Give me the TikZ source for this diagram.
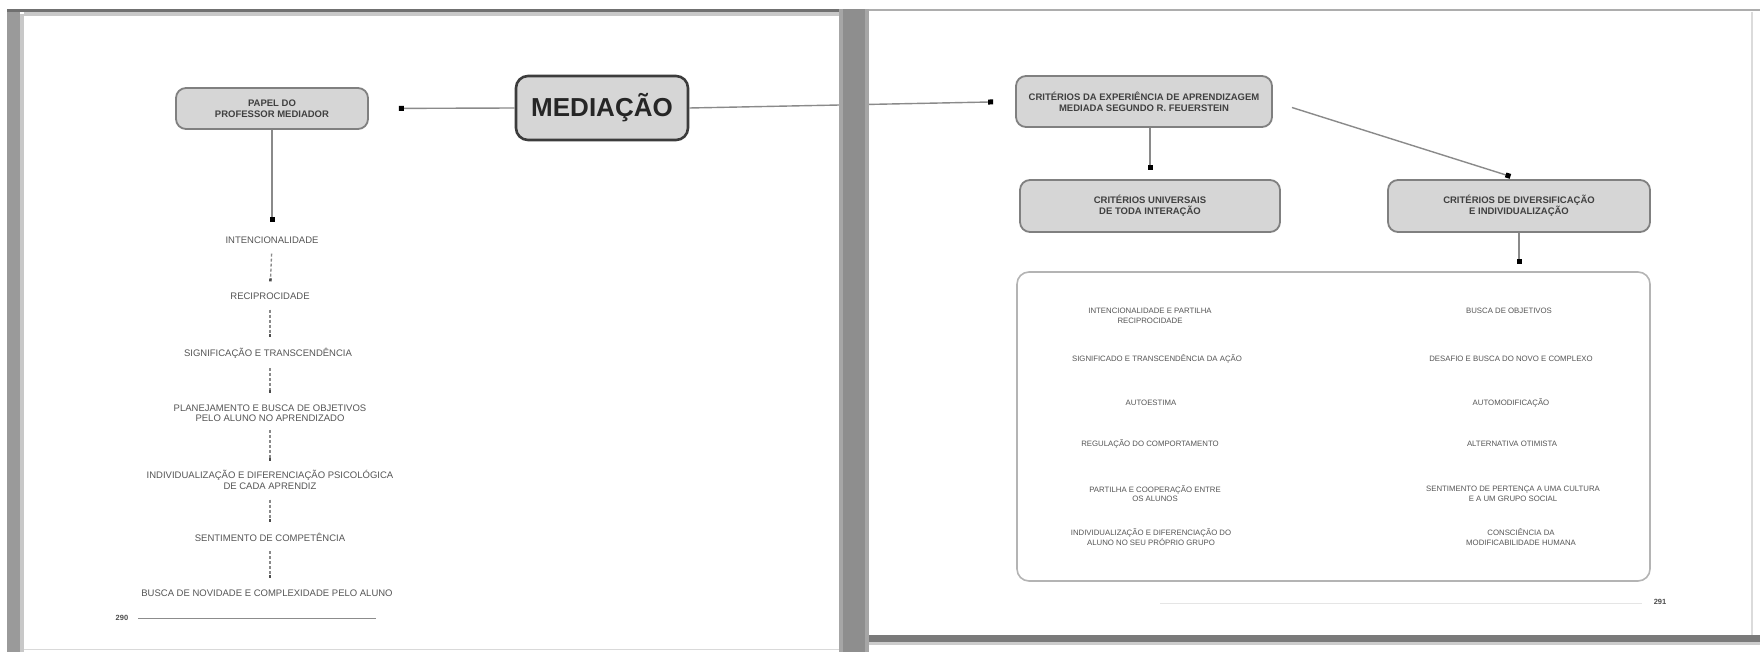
\documentclass[tikz,border=0pt]{standalone}
\usepackage{fontspec}
\setmainfont{Liberation Sans}
\setsansfont{Liberation Sans}
\usetikzlibrary{arrows.meta}
\definecolor{frameA}{HTML}{9A9A9A}
\definecolor{frameB}{HTML}{C8C8C8}
\definecolor{frameDark}{HTML}{707070}
\definecolor{gutter}{HTML}{A6A6A6}
\definecolor{gutterDark}{HTML}{8E8E8E}
\definecolor{boxfill}{HTML}{D6D6D6}
\definecolor{boxline}{HTML}{808080}
\definecolor{medline}{HTML}{3C3C3C}
\definecolor{linkgray}{HTML}{8A8A8A}
\definecolor{txt}{HTML}{555555}
\definecolor{bigline}{HTML}{B4B4B4}
\tikzset{
  graybox/.style={draw=boxline, line width=1.8pt, fill=boxfill, rounded corners=10pt,
    align=center, text=black!75, font=\bfseries\fontsize{9.5}{11}\selectfont, inner sep=2pt},
  medbox/.style={draw=medline, line width=2.6pt, fill=boxfill, rounded corners=12pt,
    align=center, font=\bfseries\fontsize{26}{28}\selectfont, text=black!85},
  bigbox/.style={draw=bigline, line width=1.6pt, fill=white, rounded corners=12pt},
  item/.style={font=\fontsize{7.8}{9.5}\selectfont, text=txt, align=center, inner sep=2pt},
  chainitem/.style={font=\fontsize{9.5}{10.5}\selectfont, text=txt, align=center, inner sep=2pt},
  link/.style={draw=linkgray, line width=1.4pt, -{Square[length=5pt,width=5pt,color=black]}},
  chainlink/.style={draw=linkgray, line width=1.3pt, dash pattern=on 3pt off 2pt,
    -{Square[length=3pt,width=2.5pt,color=black!70]}},
  pagenum/.style={font=\bfseries\fontsize{7.5}{9}\selectfont, text=black!70, inner sep=0pt}
}
\begin{document}
\begin{tikzpicture}[x=1pt,y=-1pt]
\useasboundingbox (0,0) rectangle (1760,652);
\fill[white] (0,0) rectangle (1760,652);
% ---- left page frame
\fill[frameA] (7,9) rectangle (20,652);
\fill[frameB] (20,14) rectangle (24,652);
\fill[frameDark] (7,9) rectangle (842,12.5);
\fill[frameB] (24,12.5) rectangle (842,16);
\draw[black!15, line width=1pt] (24,649) -- (840,649);
% ---- right page frame
\fill[black!32] (869,9) rectangle (1760,11.5);
\fill[black!52] (855,635) rectangle (1760,642);
\fill[black!20] (855,642) rectangle (1760,645);
\draw[black!14, line width=2pt] (1752,12) -- (1752,635);

% ---- nodes, left page
\node[medbox, minimum width=172pt, minimum height=64pt] (med) at (602,108) {MEDIAÇÃO};
\node[graybox, minimum width=192pt, minimum height=41pt] (pp) at (272,108.5) {PAPEL DO\\PROFESSOR MEDIADOR};

\node[chainitem] (c1) at (272,240) {INTENCIONALIDADE};
\node[chainitem] (c2) at (270,296) {RECIPROCIDADE};
\node[chainitem] (c3) at (268,353) {SIGNIFICAÇÃO E TRANSCENDÊNCIA};
\node[chainitem] (c4) at (270,413) {PLANEJAMENTO E BUSCA DE OBJETIVOS\\PELO ALUNO NO APRENDIZADO};
\node[chainitem] (c5) at (270,480) {INDIVIDUALIZAÇÃO E DIFERENCIAÇÃO PSICOLÓGICA\\DE CADA APRENDIZ};
\node[chainitem] (c6) at (270,537) {SENTIMENTO DE COMPETÊNCIA};
\node[chainitem] (c7) at (267,593) {BUSCA DE NOVIDADE E COMPLEXIDADE PELO ALUNO};

\node[pagenum] (p290) at (122,618) {290};
\coordinate (p290end) at (376,618);

% ---- nodes, right page
\node[graybox, minimum width=256pt, minimum height=51pt] (top) at (1144,101.5)
  {CRITÉRIOS DA EXPERIÊNCIA DE APRENDIZAGEM\\MEDIADA SEGUNDO R. FEUERSTEIN};
\node[graybox, minimum width=260pt, minimum height=52pt] (lc) at (1150,206)
  {CRITÉRIOS UNIVERSAIS\\DE TODA INTERAÇÃO};
\node[graybox, minimum width=262pt, minimum height=52pt] (rc) at (1519,206)
  {CRITÉRIOS DE DIVERSIFICAÇÃO\\E INDIVIDUALIZAÇÃO};
\node[bigbox, minimum width=633pt, minimum height=309pt] (big) at (1333.5,426.5) {};

\node[item] (l1) at (1150,316) {INTENCIONALIDADE E PARTILHA\\RECIPROCIDADE};
\node[item] (l2) at (1157,359) {SIGNIFICADO E TRANSCENDÊNCIA DA AÇÃO};
\node[item] (l3) at (1151,403) {AUTOESTIMA};
\node[item] (l4) at (1150,444) {REGULAÇÃO DO COMPORTAMENTO};
\node[item] (l5) at (1155,493.5) {PARTILHA E COOPERAÇÃO ENTRE\\OS ALUNOS};
\node[item] (l6) at (1151,537) {INDIVIDUALIZAÇÃO E DIFERENCIAÇÃO DO\\ALUNO NO SEU PRÓPRIO GRUPO};

\node[item] (r1) at (1509,311) {BUSCA DE OBJETIVOS};
\node[item] (r2) at (1511,359) {DESAFIO E BUSCA DO NOVO E COMPLEXO};
\node[item] (r3) at (1511,403) {AUTOMODIFICAÇÃO};
\node[item] (r4) at (1512,444) {ALTERNATIVA OTIMISTA};
\node[item] (r5) at (1513,494) {SENTIMENTO DE PERTENÇA A UMA CULTURA\\E A UM GRUPO SOCIAL};
\node[item] (r6) at (1521,537) {CONSCIÊNCIA DA\\MODIFICABILIDADE HUMANA};

\node[pagenum] (p291) at (1660,602) {291};
\coordinate (p291start) at (1160,603);

% ---- connectors
\draw[link, shorten >=30pt] (med.west) -- (pp.east);
\draw[link, shorten >=22pt] (med.east) -- (top.west);
\draw[link, shorten >=12pt] (pp.south) -- (pp.south |- c1.north);
\draw[chainlink, shorten <=8pt, shorten >=9pt] (c1.south) -- (c2.north);
\draw[chainlink, shorten <=8pt, shorten >=9pt] (c2.south) -- (c2.south |- c3.north);
\draw[chainlink, shorten <=8pt, shorten >=9pt] (c3.south -| c2.south) -- (c2.south |- c4.north);
\draw[chainlink, shorten <=6pt, shorten >=7pt] (c4.south) -- (c5.north);
\draw[chainlink, shorten <=8pt, shorten >=9pt] (c5.south) -- (c6.north);
\draw[chainlink, shorten <=8pt, shorten >=9pt] (c6.south) -- (c6.south |- c7.north);
\draw[link, shorten >=9pt] (top.south -| lc.north) -- (lc.north);
\draw[link, shorten <=20pt, shorten >=9pt] (top.east) -- (rc.north);
\draw[link, shorten >=7pt] (rc.south) -- (rc.south |- big.north);

\draw[black!45, line width=1pt] ([xshift=10pt]p290.east) -- (p290end);
\draw[black!10, line width=1pt] (p291start) -- ([xshift=-12pt]p291.west |- p291start);

% ---- gutter (drawn over the crossing connector)
\fill[gutter] (839,9) rectangle (869,652);
\fill[gutterDark] (843,9) rectangle (865,652);
\end{tikzpicture}
\end{document}
